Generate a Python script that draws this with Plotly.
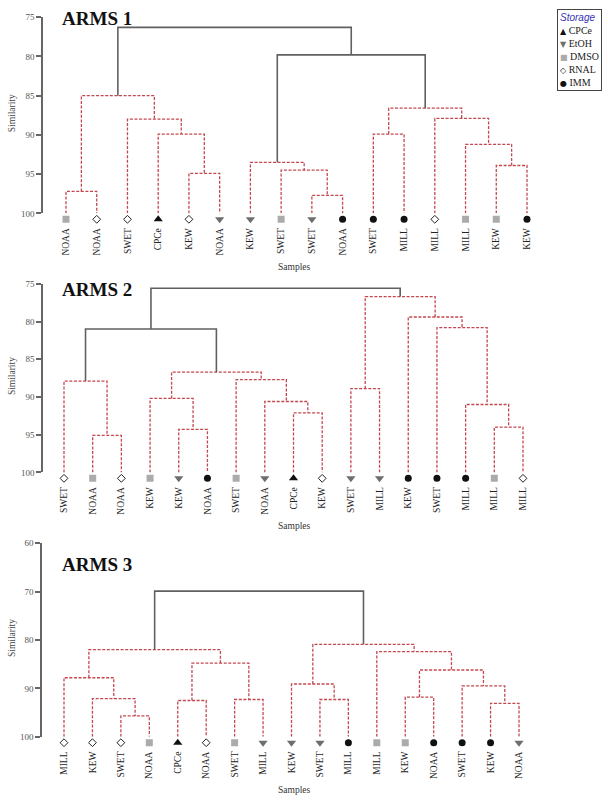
import plotly.graph_objects as go

W, H = 608, 803

# ---------------- data ----------------
# ARMS 1 (leaf order as displayed)
arms1_labels = ["NOAA", "NOAA", "SWET", "CPCe", "KEW", "NOAA", "KEW", "SWET",
                "SWET", "NOAA", "SWET", "MILL", "MILL", "MILL", "KEW", "KEW"]
arms1_storage = ["DMSO", "RNAL", "RNAL", "CPCe", "RNAL", "EtOH", "EtOH", "DMSO",
                 "EtOH", "IMM", "IMM", "IMM", "RNAL", "DMSO", "DMSO", "IMM"]
# merges: leaves are 0..n-1, merged clusters n, n+1, ...
arms1_left = [0, 4, 3, 2, 16, 8, 7, 6, 10, 14, 13, 12, 24, 23, 20]
arms1_right = [1, 5, 17, 18, 19, 9, 21, 22, 11, 15, 25, 26, 27, 28, 29]
arms1_sim = [97.2, 94.9, 89.9, 88.0, 85.0, 97.7, 94.5, 93.5, 89.9, 93.9, 91.2,
             87.9, 86.6, 79.8, 76.3]
arms1_signif = [False] * 13 + [True, True]

# ARMS 2
arms2_labels = ["SWET", "NOAA", "NOAA", "KEW", "KEW", "NOAA", "SWET", "NOAA", "CPCe",
                "KEW", "SWET", "MILL", "KEW", "SWET", "MILL", "MILL", "MILL"]
arms2_storage = ["RNAL", "DMSO", "RNAL", "DMSO", "EtOH", "IMM", "DMSO", "EtOH", "CPCe",
                 "RNAL", "EtOH", "EtOH", "IMM", "IMM", "IMM", "DMSO", "RNAL"]
arms2_left = [1, 0, 4, 3, 8, 7, 6, 20, 18, 10, 15, 14, 13, 12, 26, 25]
arms2_right = [2, 17, 5, 19, 9, 21, 22, 23, 24, 11, 16, 27, 28, 29, 30, 31]
arms2_sim = [95.1, 87.9, 94.3, 90.2, 92.1, 90.6, 87.7, 86.7, 81.0, 88.9, 94.0,
             91.0, 80.8, 79.4, 76.7, 75.6]
arms2_signif = [False] * 8 + [True] + [False] * 6 + [True]

# ARMS 3
arms3_labels = ["MILL", "KEW", "SWET", "NOAA", "CPCe", "NOAA", "SWET", "MILL", "KEW",
                "SWET", "MILL", "MILL", "KEW", "NOAA", "SWET", "KEW", "NOAA"]
arms3_storage = ["RNAL", "RNAL", "RNAL", "DMSO", "CPCe", "RNAL", "DMSO", "EtOH", "EtOH",
                 "EtOH", "IMM", "DMSO", "DMSO", "IMM", "IMM", "IMM", "EtOH"]
arms3_left = [2, 1, 0, 4, 6, 20, 19, 9, 8, 12, 15, 14, 26, 11, 25, 23]
arms3_right = [3, 17, 18, 5, 7, 21, 22, 10, 24, 13, 16, 27, 28, 29, 30, 31]
arms3_sim = [95.7, 92.1, 87.8, 92.5, 92.3, 84.8, 82.0, 92.3, 89.1, 91.8, 93.1,
             89.5, 86.2, 82.4, 80.9, 69.9]
arms3_signif = [False] * 15 + [True]

panel_titles = ["ARMS 1", "ARMS 2", "ARMS 3"]
y_ticks = [[75, 80, 85, 90, 95, 100], [75, 80, 85, 90, 95, 100], [60, 70, 80, 90, 100]]
legend_order = ["CPCe", "EtOH", "DMSO", "RNAL", "IMM"]

# ---------------- styles ----------------
STORAGE_STYLE = {
    "CPCe": dict(symbol="triangle-up", color="#111111", glyph="\u25B2", size=8),
    "EtOH": dict(symbol="triangle-down", color="#6e6e6e", glyph="\u25BC", size=8),
    "DMSO": dict(symbol="square", color="#ababab", glyph="\u25A0", size=7),
    "RNAL": dict(symbol="diamond-open", color="#222222", glyph="\u25C7", size=6),
    "IMM": dict(symbol="circle", color="#111111", glyph="\u25CF", size=7),
}
RED = "#c4474f"
DARK = "#606060"
SERIF = "Liberation Serif"

# pixel geometry of each panel
PANELS = [
    dict(axis_px=43, first_px=66, last_px=527, top_px=12.3, bot_px=211, ymin=75, ymax=100,
         title_px=14),
    dict(axis_px=43, first_px=64, last_px=523, top_px=282.3, bot_px=473.3, ymin=75, ymax=100,
         title_px=288),
    dict(axis_px=42, first_px=64, last_px=519, top_px=545, bot_px=741, ymin=60, ymax=100,
         title_px=567),
]
RIGHT_PX = 552
MARK_BAND = 12  # px band below each panel holding the leaf symbols

data = [
    (arms1_labels, arms1_storage, arms1_left, arms1_right, arms1_sim, arms1_signif),
    (arms2_labels, arms2_storage, arms2_left, arms2_right, arms2_sim, arms2_signif),
    (arms3_labels, arms3_storage, arms3_left, arms3_right, arms3_sim, arms3_signif),
]

fig = go.Figure()
layout_axes = {}
annotations = []

for p, (labels, storage, left, right, sim, signif) in enumerate(data):
    g = PANELS[p]
    n = len(labels)
    xs = list(range(n))
    hs = [100.0] * n
    for a, b, s in zip(left, right, sim):
        xs.append((xs[a] + xs[b]) / 2.0)
        hs.append(s)

    seg = {True: ([], []), False: ([], [])}
    for a, b, s, sg in zip(left, right, sim, signif):
        X, Y = seg[sg]
        X += [xs[a], xs[a], xs[b], xs[b], None]
        Y += [hs[a], s, s, hs[b], None]

    idx = "" if p == 0 else str(p + 1)
    midx = str(p + 4)
    xa, ya, ma = "x" + idx, "y" + idx, "y" + midx

    fig.add_trace(go.Scatter(x=seg[False][0], y=seg[False][1], mode="lines",
                             line=dict(color=RED, width=1.3, dash="3px,1.6px"),
                             xaxis=xa, yaxis=ya, showlegend=False, hoverinfo="skip"))
    fig.add_trace(go.Scatter(x=seg[True][0], y=seg[True][1], mode="lines",
                             line=dict(color=DARK, width=1.6),
                             xaxis=xa, yaxis=ya, showlegend=False, hoverinfo="skip"))

    for st in legend_order:
        ids = [i for i in range(n) if storage[i] == st]
        if not ids:
            continue
        sty = STORAGE_STYLE[st]
        fig.add_trace(go.Scatter(
            x=ids, y=[0.5] * len(ids), mode="markers",
            marker=dict(symbol=sty["symbol"], color=sty["color"], size=sty["size"],
                        line=dict(width=1.0 if st == "RNAL" else 0, color=sty["color"])),
            xaxis=xa, yaxis=ma, showlegend=False, name=st,
            text=[labels[i] for i in ids], hovertemplate="%{text} (" + st + ")<extra></extra>"))

    spacing = (g["last_px"] - g["first_px"]) / (n - 1)
    r0 = -(g["first_px"] - g["axis_px"]) / spacing
    r1 = r0 + (RIGHT_PX - g["axis_px"]) / spacing
    ydom = [1 - g["bot_px"] / H, 1 - g["top_px"] / H]
    mdom = [1 - (g["bot_px"] + MARK_BAND) / H, 1 - g["bot_px"] / H]

    layout_axes["xaxis" + idx] = dict(
        domain=[g["axis_px"] / W, RIGHT_PX / W], range=[r0, r1], anchor=ya,
        showline=False, showgrid=False, zeroline=False,
        tickvals=list(range(n)), ticktext=labels, tickangle=-90,
        ticks="outside", ticklen=10, tickcolor="rgba(0,0,0,0)",
        tickfont=dict(family=SERIF, size=9.5, color="#222"))
    layout_axes["yaxis" + idx] = dict(
        domain=ydom, range=[g["ymax"], g["ymin"]], anchor=xa,
        showline=True, linecolor="#666", linewidth=1.5,
        ticks="outside", ticklen=5, tickwidth=1.5, tickcolor="#666",
        tickvals=y_ticks[p], showgrid=False, zeroline=False,
        tickfont=dict(family=SERIF, size=9, color="#555"))
    layout_axes["yaxis" + midx] = dict(domain=mdom, range=[1, 0], anchor=xa, visible=False)

    # panel title
    annotations.append(dict(text="<b>" + panel_titles[p] + "</b>", xref="paper", yref="paper",
                            x=60 / W, y=1 - g["title_px"] / H, xanchor="left", yanchor="middle",
                            showarrow=False, font=dict(family=SERIF, size=19, color="#111")))
    # axis titles
    annotations.append(dict(text="Samples", xref="paper", yref="paper",
                            x=294 / W, y=1 - (g["bot_px"] + 54) / H, xanchor="center",
                            yanchor="middle", showarrow=False,
                            font=dict(family=SERIF, size=9.5, color="#333")))
    annotations.append(dict(text="Similarity", xref="paper", yref="paper",
                            x=12 / W, y=1 - ((g["top_px"] + g["bot_px"]) / 2 - 2) / H,
                            xanchor="center", yanchor="middle", textangle=-90, showarrow=False,
                            font=dict(family=SERIF, size=9.5, color="#444")))

legend_lines = ["<span style='font-family:Liberation Sans;color:#3535b5'><i>Storage</i></span>"]
for st in legend_order:
    sty = STORAGE_STYLE[st]
    legend_lines.append("<span style='color:%s;font-family:DejaVu Sans;font-size:8px'>%s</span> %s"
                        % (sty["color"], sty["glyph"], st))
annotations.append(dict(text="<br>".join(legend_lines), xref="paper", yref="paper",
                        x=557 / W, y=1 - 4 / H, xanchor="left", yanchor="top", align="left",
                        showarrow=False, bordercolor="#444", borderwidth=1, borderpad=2,
                        bgcolor="white", font=dict(family=SERIF, size=10, color="#222")))

fig.update_layout(width=W, height=H, autosize=False,
                  margin=dict(l=0, r=0, t=0, b=0),
                  paper_bgcolor="white", plot_bgcolor="white",
                  showlegend=False, annotations=annotations, **layout_axes)

fig.write_html("out.html", config={"displayModeBar": False},
               post_script="document.body.style.margin='0';document.body.style.overflow='hidden';")
